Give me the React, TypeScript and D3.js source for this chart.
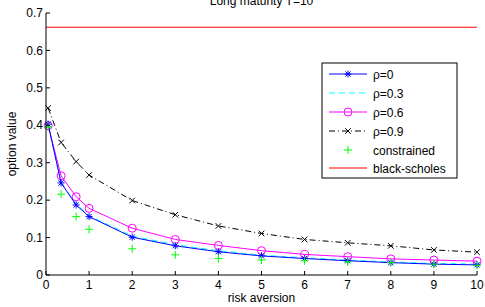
import React from "react";
import * as d3 from "d3";

const xs = [0.05, 0.35, 0.7, 1, 2, 3, 4, 5, 6, 7, 8, 9, 10];
const rho0 = [0.403, 0.246, 0.187, 0.156, 0.101, 0.078, 0.062, 0.051, 0.044, 0.038, 0.033, 0.029, 0.027];
const rho03 = [0.4, 0.247, 0.19, 0.158, 0.104, 0.081, 0.065, 0.053, 0.046, 0.04, 0.035, 0.031, 0.029];
const rho06 = [0.399, 0.265, 0.209, 0.178, 0.125, 0.095, 0.079, 0.065, 0.055, 0.049, 0.043, 0.04, 0.037];
const rho09 = [0.446, 0.354, 0.303, 0.267, 0.199, 0.161, 0.131, 0.111, 0.095, 0.086, 0.078, 0.067, 0.061];
const constrained = [0.395, 0.216, 0.156, 0.122, 0.07, 0.054, 0.044, 0.04, 0.038, 0.035, 0.033, 0.029, 0.026];
const blackScholes = 0.662;
const xTicks = [0, 1, 2, 3, 4, 5, 6, 7, 8, 9, 10];
const yTicks = [0, 0.1, 0.2, 0.3, 0.4, 0.5, 0.6, 0.7];
const legendLabels = ["ρ=0", "ρ=0.3", "ρ=0.6", "ρ=0.9", "constrained", "black-scholes"];

const W = 485, H = 307;
const L = 46, R = 477, T = 13, B = 275;
const FONT = "Liberation Sans, Arial, Helvetica, sans-serif";
const FS = 12;

function Marker({ kind, x, y, color }: { kind: string; x: number; y: number; color: string }) {
  const s = 3.5;
  if (kind === "star") {
    const d = 2.6;
    return (
      <g stroke={color} strokeWidth={1}>
        <line x1={x - s} y1={y} x2={x + s} y2={y} />
        <line x1={x} y1={y - s} x2={x} y2={y + s} />
        <line x1={x - d} y1={y - d} x2={x + d} y2={y + d} />
        <line x1={x - d} y1={y + d} x2={x + d} y2={y - d} />
      </g>
    );
  }
  if (kind === "circle") return <circle cx={x} cy={y} r={4} fill="none" stroke={color} strokeWidth={1} />;
  if (kind === "x") {
    const d = 2.8;
    return (
      <g stroke={color} strokeWidth={1}>
        <line x1={x - d} y1={y - d} x2={x + d} y2={y + d} />
        <line x1={x - d} y1={y + d} x2={x + d} y2={y - d} />
      </g>
    );
  }
  if (kind === "plus") {
    return (
      <g stroke={color} strokeWidth={1}>
        <line x1={x - 4} y1={y} x2={x + 4} y2={y} />
        <line x1={x} y1={y - 4} x2={x} y2={y + 4} />
      </g>
    );
  }
  return null;
}

export default function App() {
  const x = d3.scaleLinear().domain([0, 10]).range([L, R]);
  const y = d3.scaleLinear().domain([0, 0.7]).range([B, T]);
  const line = d3.line<number>().x((_, i) => x(xs[i])).y((d) => y(d));

  const series = [
    { vals: rho03, color: "#00ffff", dash: "6,4", marker: "" },
    { vals: rho06, color: "#ff00ff", dash: "", marker: "circle" },
    { vals: rho0, color: "#0000ff", dash: "", marker: "star" },
    { vals: rho09, color: "#000000", dash: "6,3,1,3", marker: "x" },
  ];

  const legend = [
    { color: "#0000ff", dash: "", marker: "star", line: true },
    { color: "#00ffff", dash: "6,4", marker: "", line: true },
    { color: "#ff00ff", dash: "", marker: "circle", line: true },
    { color: "#000000", dash: "6,3,1,3", marker: "x", line: true },
    { color: "#00ff00", dash: "", marker: "plus", line: false },
    { color: "#ff0000", dash: "", marker: "", line: true },
  ];
  const legY = [74, 93, 112, 131, 150, 168];

  return (
    <svg width={W} height={H} style={{ position: "absolute", left: 0, top: 0, background: "#fff" }} fontFamily={FONT}>
      <rect x={0} y={0} width={W} height={H} fill="#fff" />
      <text x={(L + R) / 2} y={5} textAnchor="middle" fontSize={FS}>Long maturity T=10</text>

      {/* black-scholes */}
      <line x1={x(0)} x2={x(10)} y1={y(blackScholes)} y2={y(blackScholes)} stroke="#ff0000" strokeWidth={1} />

      {series.map((s, i) => (
        <g key={i}>
          <path d={line(s.vals) || ""} fill="none" stroke={s.color} strokeWidth={1} strokeDasharray={s.dash || undefined} />
          {s.marker && s.vals.map((v, j) => <Marker key={j} kind={s.marker} x={x(xs[j])} y={y(v)} color={s.color} />)}
        </g>
      ))}
      {constrained.map((v, j) => <Marker key={j} kind="plus" x={x(xs[j])} y={y(v)} color="#00ff00" />)}

      {/* axes */}
      <line x1={L} x2={L} y1={T} y2={B} stroke="#000" />
      <line x1={L} x2={R} y1={B} y2={B} stroke="#000" />
      {yTicks.map((t) => (
        <g key={t}>
          <line x1={L} x2={L + 4} y1={y(t)} y2={y(t)} stroke="#000" />
          <text x={L - 3} y={y(t)} dy="0.35em" textAnchor="end" fontSize={FS}>{d3.format("~g")(t)}</text>
        </g>
      ))}
      {xTicks.map((t) => (
        <g key={t}>
          <line x1={x(t)} x2={x(t)} y1={B} y2={B - 4} stroke="#000" />
          <text x={x(t)} y={B + 14} textAnchor="middle" fontSize={FS}>{t}</text>
        </g>
      ))}
      <text x={(L + R) / 2} y={302} textAnchor="middle" fontSize={FS}>risk aversion</text>
      <text transform={`translate(16,${(T + B) / 2}) rotate(-90)`} textAnchor="middle" fontSize={FS}>option value</text>

      {/* legend */}
      <rect x={322} y={63} width={135} height={115} fill="#fff" stroke="#000" strokeWidth={1} />
      {legend.map((l, i) => (
        <g key={i}>
          {l.line && <line x1={329} x2={367} y1={legY[i]} y2={legY[i]} stroke={l.color} strokeDasharray={l.dash || undefined} />}
          {l.marker && <Marker kind={l.marker} x={348} y={legY[i]} color={l.color} />}
          <text x={373} y={legY[i] + 5} fontSize={FS}>{legendLabels[i]}</text>
        </g>
      ))}
    </svg>
  );
}
